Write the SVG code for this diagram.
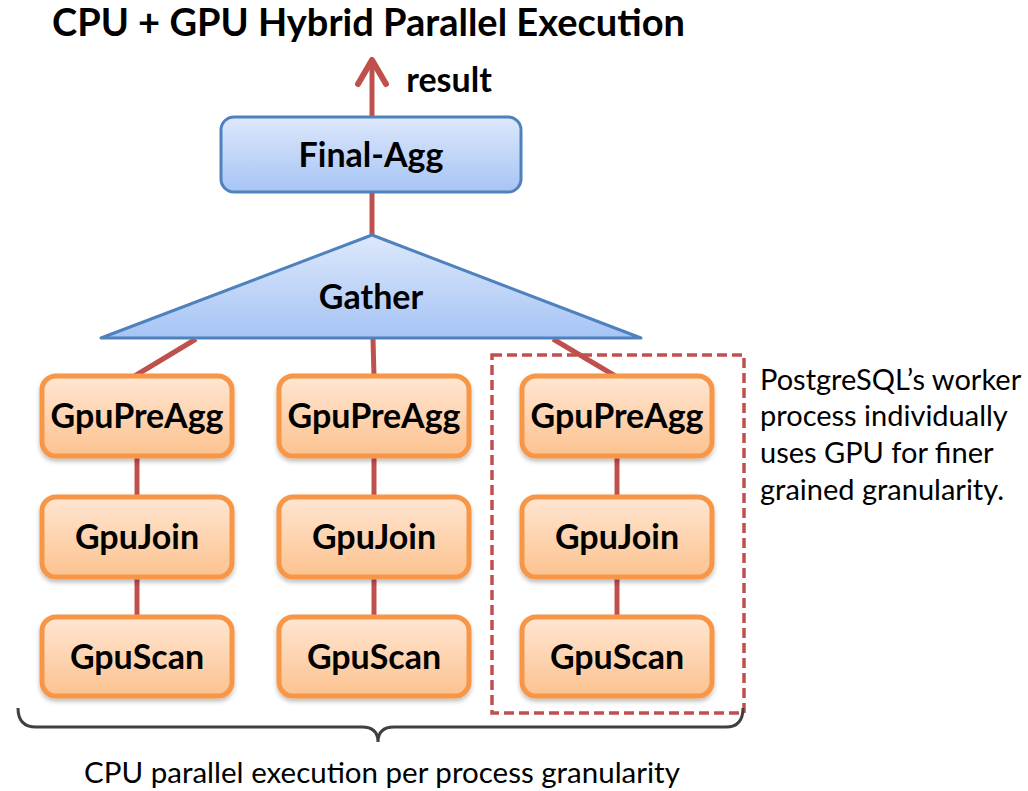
<svg xmlns="http://www.w3.org/2000/svg" width="1028" height="791" viewBox="0 0 1028 791">
  <style>
    .title { font-family: Lato, "Noto Sans", sans-serif; font-weight: bold; font-size: 38px; fill: #000; }
    .lbl { font-family: Lato, "Noto Sans", sans-serif; font-weight: bold; font-size: 34px; fill: #000; text-anchor: middle; }
    .note { font-family: Lato, "Noto Sans", sans-serif; font-size: 29px; fill: #000; }
    .link { stroke: #C0504D; stroke-width: 5; fill: none; }
    .blue { fill: url(#gBlue); stroke: #4F81BD; stroke-width: 3; }
    .orange { fill: url(#gOrange); stroke: #F79646; stroke-width: 5; filter: url(#shadow); }
  </style>
  <defs>
    <linearGradient id="gBlue" x1="0" y1="0" x2="0" y2="1">
      <stop offset="0" stop-color="#DDE8FB"/>
      <stop offset="1" stop-color="#A6C4F5"/>
    </linearGradient>
    <linearGradient id="gOrange" x1="0" y1="0" x2="0" y2="1">
      <stop offset="0" stop-color="#FFE6D2"/>
      <stop offset="1" stop-color="#FCC28F"/>
    </linearGradient>
    <filter id="shadow" x="-10%" y="-10%" width="120%" height="130%">
      <feDropShadow dx="0" dy="3" stdDeviation="2" flood-color="#000" flood-opacity="0.25"/>
    </filter>
    <!-- open chevron head, drawn pointing along +x -->
    <marker id="arrow" markerUnits="userSpaceOnUse" markerWidth="32" markerHeight="34" refX="28" refY="17" orient="auto" viewBox="0 0 32 34">
      <path d="M4 3 L28 17 L4 31" fill="none" stroke="#C0504D" stroke-width="6" stroke-linecap="round" stroke-linejoin="round"/>
    </marker>
  </defs>

  <text class="title" x="52" y="36">CPU + GPU Hybrid Parallel Execution</text>

  <!-- connectors -->
  <g id="connectors">
    <line class="link" x1="372" y1="117" x2="372" y2="60" marker-end="url(#arrow)"/>
    <line class="link" x1="372" y1="192" x2="372" y2="236"/>
    <line class="link" x1="196" y1="339" x2="133" y2="377"/>
    <line class="link" x1="373" y1="339" x2="374" y2="376"/>
    <line class="link" x1="553" y1="339" x2="617" y2="377"/>
    <line class="link" x1="137" y1="456" x2="137" y2="497"/>
    <line class="link" x1="137" y1="577" x2="137" y2="618"/>
    <line class="link" x1="374" y1="456" x2="374" y2="497"/>
    <line class="link" x1="374" y1="577" x2="374" y2="618"/>
    <line class="link" x1="617" y1="456" x2="617" y2="497"/>
    <line class="link" x1="617" y1="577" x2="617" y2="618"/>
  </g>

  <text class="lbl" x="449" y="92">result</text>

  <g id="final-agg">
    <rect class="blue" x="221" y="117" width="300" height="75" rx="13"/>
    <text class="lbl" x="371" y="167">Final-Agg</text>
  </g>

  <g id="gather">
    <path class="blue" d="M372 235 L101 338 L641 338 Z" stroke-linejoin="round"/>
    <text class="lbl" x="371" y="309">Gather</text>
  </g>

  <!-- worker 1 -->
  <g id="preagg-1">
    <rect class="orange" x="42" y="376" width="190" height="80" rx="14"/>
    <text class="lbl" x="137" y="428">GpuPreAgg</text>
  </g>
  <g id="join-1">
    <rect class="orange" x="42" y="497" width="190" height="80" rx="14"/>
    <text class="lbl" x="137" y="549">GpuJoin</text>
  </g>
  <g id="scan-1">
    <rect class="orange" x="42" y="617" width="190" height="79" rx="14"/>
    <text class="lbl" x="137" y="669">GpuScan</text>
  </g>

  <!-- worker 2 -->
  <g id="preagg-2">
    <rect class="orange" x="279" y="376" width="190" height="80" rx="14"/>
    <text class="lbl" x="374" y="428">GpuPreAgg</text>
  </g>
  <g id="join-2">
    <rect class="orange" x="279" y="497" width="190" height="80" rx="14"/>
    <text class="lbl" x="374" y="549">GpuJoin</text>
  </g>
  <g id="scan-2">
    <rect class="orange" x="279" y="617" width="190" height="79" rx="14"/>
    <text class="lbl" x="374" y="669">GpuScan</text>
  </g>

  <!-- worker 3 -->
  <g id="worker-3-frame">
    <rect x="492" y="355" width="252" height="358" fill="none" stroke="#C0504D" stroke-width="3.5" stroke-dasharray="10 5"/>
  </g>
  <g id="preagg-3">
    <rect class="orange" x="522" y="376" width="190" height="80" rx="14"/>
    <text class="lbl" x="617" y="428">GpuPreAgg</text>
  </g>
  <g id="join-3">
    <rect class="orange" x="522" y="497" width="190" height="80" rx="14"/>
    <text class="lbl" x="617" y="549">GpuJoin</text>
  </g>
  <g id="scan-3">
    <rect class="orange" x="522" y="617" width="190" height="79" rx="14"/>
    <text class="lbl" x="617" y="669">GpuScan</text>
  </g>

  <g id="note">
    <text class="note" x="760" y="390">PostgreSQL’s worker</text>
    <text class="note" x="760" y="426">process individually</text>
    <text class="note" x="760" y="463">uses GPU for finer</text>
    <text class="note" x="760" y="500">grained granularity.</text>
  </g>

  <g id="brace">
    <path d="M18 708 Q18 727 36 727 L362 727 Q378 727 378 742 Q378 727 394 727 L726 727 Q743 727 743 708" fill="none" stroke="#404040" stroke-width="3"/>
    <text class="note" x="382" y="783" text-anchor="middle" style="font-size:29.5px">CPU parallel execution per process granularity</text>
  </g>
</svg>
